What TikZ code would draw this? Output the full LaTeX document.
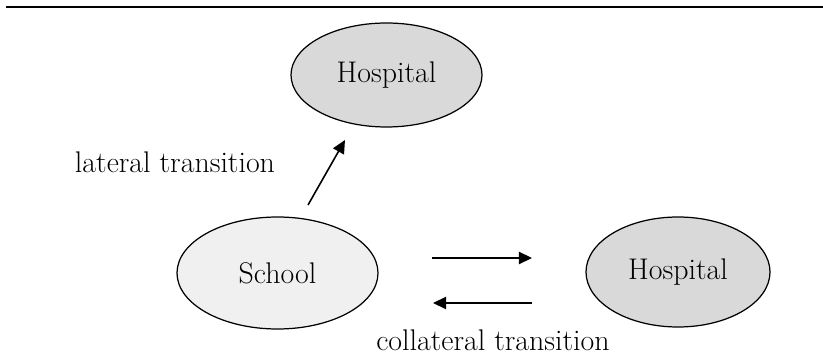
\documentclass[tikz,border=0pt]{standalone}
\usepackage{tikz}
\usetikzlibrary{arrows.meta,shapes.geometric}
\tikzstyle{place} = [ellipse, draw, line width=0.7pt, inner sep=0pt]
\tikzstyle{move} = [line width=0.9pt, -{Triangle[length=7.5pt,width=7pt]}]

\begin{document}
\begin{tikzpicture}[every node/.style={font=\fontsize{17}{20}\selectfont}]
\useasboundingbox (0,0) rectangle (16.46,7.22);
\draw[line width=1.6pt] (0.12,7.08) -- (16.46,7.08);
\node[place, fill=black!15, minimum width=3.82cm, minimum height=2.08cm] (hospTop) at (7.73,5.72) {Hospital};
\node[place, fill=black!6, minimum width=4.02cm, minimum height=2.24cm] (school) at (5.55,1.76) {School};
\node[place, fill=black!15, minimum width=3.68cm, minimum height=2.2cm] (hospRight) at (13.56,1.78) {Hospital};
\coordinate (latFrom) at (6.16,3.12);
\coordinate (latTo) at (6.90,4.42);
\coordinate (goA) at (8.64,2.06);
\coordinate (goB) at (10.64,2.06);
\coordinate (backA) at (10.64,1.16);
\coordinate (backB) at (8.66,1.16);
\draw[move] (latFrom) -- (latTo);
\draw[move] (goA) -- (goB);
\draw[move] (backA) -- (backB);
\node (latLabel) at (3.5,3.98) {lateral transition};
\node (colLabel) at (9.86,0.42) {collateral transition};
\end{tikzpicture}
\end{document}
